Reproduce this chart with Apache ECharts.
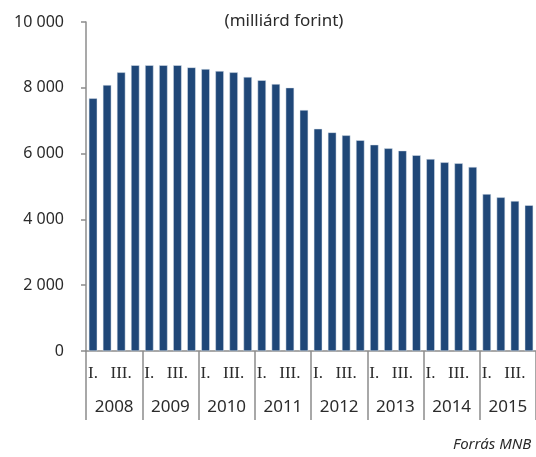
<!DOCTYPE html>
<html lang="hu">
  <head>
    <meta charset="UTF-8" />
    <title>Chart</title>
    <script src="https://cdn.jsdelivr.net/npm/echarts@6/dist/echarts.min.js"></script>
    <style>
      html, body { margin: 0; padding: 0; background: #fff; }
      #chart { width: 536px; height: 457px; }
    </style>
  </head>
  <body>
    <div id="chart"></div>
    <script>
      // data (milliárd forint)
      var years = ["2008", "2009", "2010", "2011", "2012", "2013", "2014", "2015"];
      var quarters = ["I.", "II.", "III.", "IV."];
      var shownQuarters = ["I.", "III."];
      var values = [
        7680, 8085, 8470, 8685,
        8685, 8685, 8685, 8620,
        8570, 8510, 8470, 8330,
        8230, 8115, 8005, 7325,
        6755, 6645, 6555, 6405,
        6270, 6160, 6090, 5950,
        5835, 5735, 5705, 5595,
        4770, 4670, 4560, 4430,
      ];
      var yTicks = [0, 2000, 4000, 6000, 8000, 10000];

      var categories = [];
      years.forEach(function (y) {
        quarters.forEach(function (q) {
          categories.push(y + " " + q);
        });
      });

      var axisGray = "#8c8c8c";
      var textColor = "#2b2b2b";

      var chart = echarts.init(document.getElementById("chart"));
      chart.setOption({
        animation: false,
        title: {
          text: "(milliárd forint)",
          left: 279,
          top: 8,
          textAlign: "center",
          textStyle: {
            fontFamily: "Noto Sans",
            fontSize: 17,
            fontWeight: "normal",
            color: textColor,
          },
        },
        graphic: [
          {
            type: "text",
            left: 453,
            top: 437,
            style: {
              text: "Forrás MNB",
              fontFamily: "Noto Sans",
              fontStyle: "italic",
              fontSize: 15,
              fill: textColor,
            },
          },
        ],
        grid: {
          left: 86,
          top: 22,
          width: 452,
          height: 329,
          containLabel: false,
        },
        xAxis: [
          {
            type: "category",
            data: categories,
            position: "bottom",
            axisLine: { show: true, lineStyle: { color: axisGray, width: 1.5 } },
            axisTick: { show: false },
            axisLabel: {
              interval: 0,
              margin: 14,
              fontFamily: "Liberation Serif",
              fontSize: 17,
              color: textColor,
              formatter: function (v) {
                var q = v.split(" ")[1];
                return shownQuarters.indexOf(q) >= 0 ? q : "";
              },
            },
          },
          {
            type: "category",
            data: years,
            position: "bottom",
            offset: 0,
            axisLine: { show: false },
            axisTick: {
              show: true,
              interval: 0,
              length: 69,
              lineStyle: { color: axisGray, width: 1.5 },
            },
            axisLabel: {
              interval: 0,
              margin: 48,
              fontFamily: "Noto Sans",
              fontSize: 17,
              color: textColor,
            },
          },
        ],
        yAxis: {
          type: "value",
          min: yTicks[0],
          max: yTicks[yTicks.length - 1],
          interval: 2000,
          axisLine: { show: true, lineStyle: { color: axisGray, width: 1.5 } },
          axisTick: { show: true, length: 5, lineStyle: { color: axisGray, width: 1.5 } },
          splitLine: { show: false },
          axisLabel: {
            margin: 22,
            fontFamily: "Noto Sans",
            fontSize: 16,
            color: textColor,
            formatter: function (v) {
              return String(v).replace(/\B(?=(\d{3})+(?!\d))/g, " ");
            },
          },
        },
        series: [
          {
            type: "bar",
            xAxisIndex: 0,
            data: values,
            barCategoryGap: "40%",
            itemStyle: {
              color: "#1f4778",
              borderColor: "#dfe6ef",
              borderWidth: 0.5,
            },
          },
        ],
      });
    </script>
  </body>
</html>
